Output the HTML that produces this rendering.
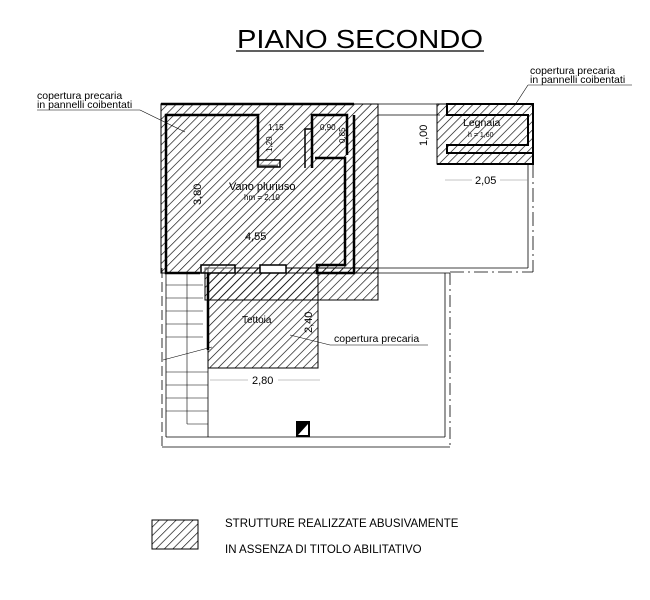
<!DOCTYPE html>
<html><head><meta charset="utf-8"><style>
html,body{margin:0;padding:0;background:#fff;}
svg{display:block;font-family:"Liberation Sans",sans-serif;}
</style></head><body>
<svg width="650" height="600" viewBox="0 0 650 600">
<defs>
<pattern id="h" width="6" height="6" patternUnits="userSpaceOnUse" patternTransform="rotate(45)">
<line x1="0" y1="0" x2="0" y2="6" stroke="#000" stroke-width="1.3"/>
</pattern>
</defs>
<!-- title -->
<text x="237" y="48" font-size="26" textLength="246" lengthAdjust="spacingAndGlyphs">PIANO  SECONDO</text>
<line x1="236" y1="51" x2="484" y2="51" stroke="#000" stroke-width="1.3"/>

<!-- labels top -->
<text x="37" y="99" font-size="10.5">copertura precaria</text>
<text x="37" y="108" font-size="10.5">in pannelli coibentati</text>
<line x1="37" y1="110" x2="140" y2="110" stroke="#000" stroke-width="0.6"/>
<line x1="140" y1="110" x2="185" y2="132" stroke="#000" stroke-width="0.6"/>
<text x="530" y="74" font-size="10.5">copertura precaria</text>
<text x="530" y="83" font-size="10.5">in pannelli coibentati</text>
<line x1="528" y1="85" x2="632" y2="85" stroke="#000" stroke-width="0.6"/>
<line x1="528" y1="85" x2="515" y2="105" stroke="#000" stroke-width="0.6"/>

<!-- main hatched block -->
<rect x="161" y="104" width="217" height="169" fill="url(#h)" stroke="#000" stroke-width="1"/>
<rect x="205" y="268" width="173" height="32" fill="url(#h)" stroke="#000" stroke-width="1"/>
<rect x="208" y="268" width="110" height="100" fill="url(#h)" stroke="#000" stroke-width="1"/>
<line x1="161" y1="104" x2="354" y2="104" stroke="#000" stroke-width="2.5"/>
<!-- inner walls -->
<polyline points="200,273 166,273 166,115 258,115 258,166 278,166" fill="none" stroke="#000" stroke-width="2.5"/>
<polyline points="312,168 312,115 347,115 347,155" fill="none" stroke="#000" stroke-width="2.5"/>
<polyline points="305,168 305,129 312,129" fill="none" stroke="#000" stroke-width="1.5"/>
<polyline points="354,115 354,273 317,273 317,265 345,265 345,158 315,158" fill="none" stroke="#000" stroke-width="2.5"/>
<rect x="258" y="160" width="22" height="7" fill="#fff" fill-opacity="0.4" stroke="#000" stroke-width="1.5"/>
<rect x="260" y="265" width="26" height="8" fill="#fff" stroke="#000" stroke-width="1.5"/>
<rect x="201" y="265" width="34" height="8" fill="#fff" fill-opacity="0.3" stroke="#000" stroke-width="1.5"/>
<line x1="208" y1="273" x2="208" y2="350" stroke="#000" stroke-width="2.5"/>
<text x="229" y="190" font-size="11">Vano pluriuso</text>
<text x="244" y="200" font-size="8">hm = 2,10</text>
<text x="245" y="240" font-size="11">4,55</text>
<text x="0" y="0" font-size="11" transform="translate(201,205) rotate(-90)">3,80</text>
<text x="268" y="130" font-size="8">1,15</text>
<text x="320" y="130" font-size="8">0,90</text>
<text x="0" y="0" font-size="8" transform="translate(272,152) rotate(-90)">1,20</text>
<text x="0" y="0" font-size="8" transform="translate(345,143) rotate(-90)">0,85</text>
<text x="242" y="323" font-size="10">Tettoia</text>
<text x="0" y="0" font-size="11" transform="translate(312,333) rotate(-90)">2,40</text>
<text x="334" y="342" font-size="10.5">copertura precaria</text>
<line x1="330" y1="345" x2="428" y2="345" stroke="#000" stroke-width="0.6"/>
<line x1="330" y1="345" x2="290" y2="335" stroke="#000" stroke-width="0.6"/>
<text x="252" y="384" font-size="11">2,80</text>
<line x1="210" y1="380" x2="248" y2="380" stroke="#888" stroke-width="0.5"/>
<line x1="278" y1="380" x2="320" y2="380" stroke="#888" stroke-width="0.5"/>

<!-- connecting thin lines -->
<line x1="378" y1="104" x2="437" y2="104" stroke="#000" stroke-width="0.8"/>
<line x1="378" y1="115" x2="440" y2="115" stroke="#000" stroke-width="0.8"/>
<line x1="378" y1="268" x2="528" y2="268" stroke="#000" stroke-width="0.8"/>
<line x1="378" y1="273" x2="450" y2="273" stroke="#000" stroke-width="0.8"/>
<line x1="528" y1="164" x2="528" y2="268" stroke="#000" stroke-width="0.8"/>
<line x1="533" y1="164" x2="533" y2="272" stroke="#000" stroke-width="0.8" stroke-dasharray="14,4,2,4"/>
<line x1="450" y1="272" x2="533" y2="272" stroke="#000" stroke-width="0.8" stroke-dasharray="14,4,2,4"/>
<text x="475" y="184" font-size="11">2,05</text>
<line x1="445" y1="180" x2="472" y2="180" stroke="#888" stroke-width="0.5"/>
<line x1="500" y1="180" x2="528" y2="180" stroke="#888" stroke-width="0.5"/>
<text x="0" y="0" font-size="11" transform="translate(427,146) rotate(-90)">1,00</text>

<!-- legnaia -->
<rect x="437" y="104" width="96" height="60" fill="url(#h)" stroke="#000" stroke-width="1"/>
<polyline points="447,115 447,104 533,104 533,164 437,164" fill="none" stroke="#000" stroke-width="2"/>
<polyline points="447,104 447,115 528,115 528,145 447,145 447,153 533,153" fill="none" stroke="#000" stroke-width="2"/>
<text x="463" y="126" font-size="10.5">Legnaia</text>
<text x="468" y="137" font-size="7">h = 1,60</text>

<!-- lower enclosure -->
<line x1="162" y1="268" x2="162" y2="447" stroke="#000" stroke-width="0.8" stroke-dasharray="10,4"/>
<line x1="162" y1="447" x2="450" y2="447" stroke="#000" stroke-width="0.8"/>
<line x1="166" y1="437" x2="445" y2="437" stroke="#000" stroke-width="0.8"/>
<line x1="445" y1="273" x2="445" y2="437" stroke="#000" stroke-width="0.8"/>
<line x1="450" y1="273" x2="450" y2="447" stroke="#000" stroke-width="0.8" stroke-dasharray="12,4,2,4"/>
<line x1="166" y1="273" x2="166" y2="437" stroke="#000" stroke-width="0.8"/>
<line x1="208" y1="350" x2="208" y2="437" stroke="#000" stroke-width="0.8"/>
<line x1="187" y1="273" x2="187" y2="424" stroke="#000" stroke-width="0.6"/>
<line x1="187" y1="424" x2="208" y2="424" stroke="#000" stroke-width="0.6"/>
<g stroke="#000" stroke-width="0.6">
<line x1="166" y1="285" x2="203" y2="285"/><line x1="166" y1="298" x2="203" y2="298"/>
<line x1="166" y1="311" x2="203" y2="311"/><line x1="166" y1="324" x2="203" y2="324"/>
<line x1="166" y1="337" x2="203" y2="337"/>
<line x1="166" y1="372" x2="208" y2="372"/><line x1="166" y1="385" x2="208" y2="385"/>
<line x1="166" y1="398" x2="208" y2="398"/><line x1="166" y1="411" x2="208" y2="411"/>
<line x1="163" y1="360" x2="212" y2="347"/>
</g>
<rect x="296" y="421" width="14" height="16" fill="#000"/>
<polygon points="298,435 308,435 308,424" fill="#fff"/>

<!-- legend -->
<rect x="152" y="520" width="46" height="29" fill="url(#h)" stroke="#000" stroke-width="1"/>
<text x="225" y="527" font-size="11.5">STRUTTURE REALIZZATE ABUSIVAMENTE</text>
<text x="225" y="553" font-size="11.5">IN ASSENZA DI TITOLO ABILITATIVO</text>
</svg>
</body></html>
